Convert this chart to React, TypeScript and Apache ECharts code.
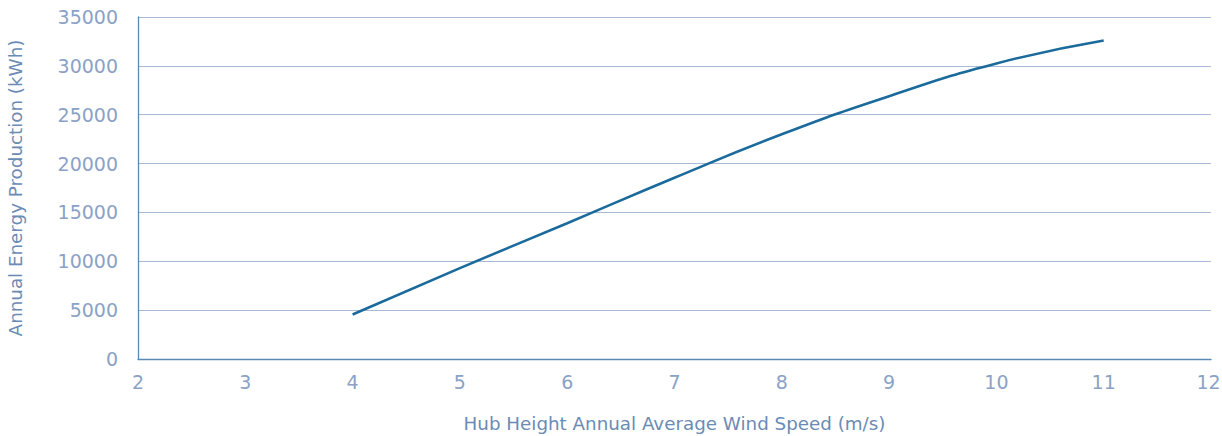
import React, { useEffect, useRef } from "react";
import * as echarts from "echarts";

const windSpeeds = [4, 5, 6, 7, 8, 9, 10, 11];
const energyKWh = [4550, 9300, 13900, 18550, 23000, 26900, 30250, 32600];
const xTitle = "Hub Height Annual Average Wind Speed (m/s)";
const yTitle = "Annual Energy Production (kWh)";

export default function App() {
  const ref = useRef<HTMLDivElement>(null);
  useEffect(() => {
    if (!ref.current) return;
    const chart = echarts.init(ref.current, null, { renderer: "svg" });
    const font = "'DejaVu Sans', sans-serif";
    const tickColor = "#8aa2c6";
    chart.setOption({
      animation: false,
      grid: { left: 138, right: 11, top: 17, bottom: 77, outerBoundsMode: "none", containLabel: false },
      xAxis: {
        type: "value",
        min: 2,
        max: 12,
        interval: 1,
        name: xTitle,
        nameLocation: "middle",
        nameGap: 55,
        nameTextStyle: { color: "#6b8bb5", fontSize: 18.3, fontFamily: font },
        axisLine: { show: true, lineStyle: { color: "#5a8ab2", width: 1.3 } },
        axisTick: { show: false },
        axisLabel: {
          color: tickColor,
          fontSize: 19,
          margin: 13,
          fontFamily: font,
          formatter: (v: number) => (v === 12 ? "{m|12}" : String(v)),
          rich: { m: { color: tickColor, fontSize: 19, fontFamily: font, padding: [0, 5, 0, 0] } },
        },
        splitLine: { show: false },
      },
      yAxis: {
        type: "value",
        min: 0,
        max: 35000,
        interval: 5000,
        name: yTitle,
        nameLocation: "middle",
        nameGap: 114,
        nameTextStyle: { color: "#6b8bb5", fontSize: 18.3, fontFamily: font },
        axisLine: { show: true, lineStyle: { color: "#5a8ab2", width: 1.3 } },
        axisTick: { show: false },
        axisLabel: { color: tickColor, fontSize: 19, margin: 20, fontFamily: font, formatter: (v: number) => String(v) },
        splitLine: { show: true, lineStyle: { color: "#a8b9d5", width: 1.2 } },
      },
      series: [
        {
          type: "line",
          smooth: true,
          showSymbol: false,
          data: windSpeeds.map((x, i) => [x, energyKWh[i]]),
          lineStyle: { color: "#1b6a9c", width: 2.6 },
        },
      ],
    });
    return () => chart.dispose();
  }, []);
  return (
    <div
      ref={ref}
      style={{ position: "absolute", left: 0, top: 0, width: 1222, height: 436 }}
    />
  );
}
